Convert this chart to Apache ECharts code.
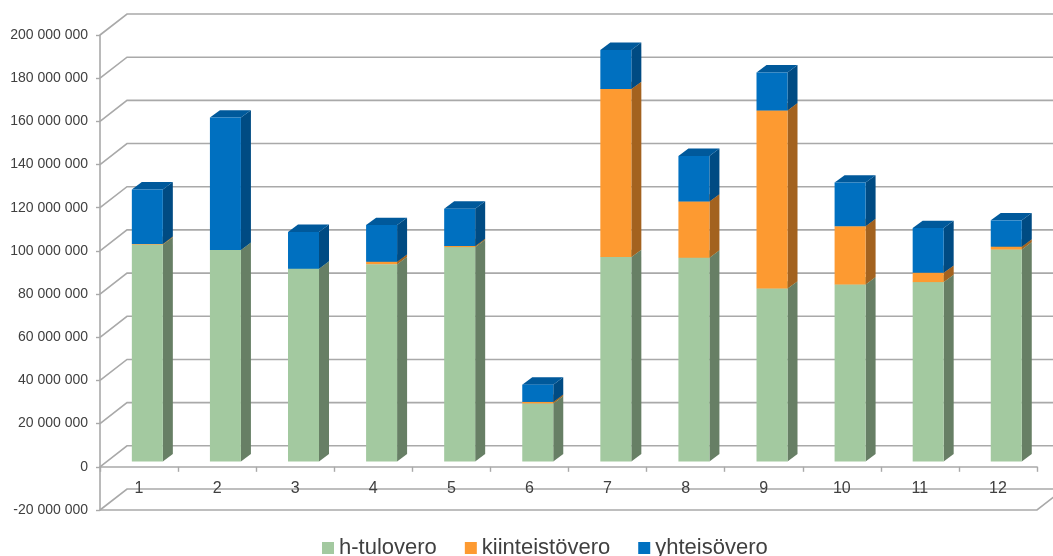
<!DOCTYPE html>
<html>
<head>
<meta charset="utf-8">
<script src="https://cdn.jsdelivr.net/npm/echarts@6/dist/echarts.min.js"></script>
<style>
  html, body { margin: 0; padding: 0; background: #fff; }
  #chart { width: 1053px; height: 556px; }
</style>
</head>
<body>
<div id="chart"></div>
<script>
// Categories and stacked values (euros)
const categories = ['1', '2', '3', '4', '5', '6', '7', '8', '9', '10', '11', '12'];
const hTulovero = [100500000, 98000000, 89300000, 91400000, 99300000, 26900000, 94700000, 94400000, 80100000, 82000000, 83100000, 98200000];
const kiinteistovero = [300000, 0, 0, 1100000, 500000, 700000, 77800000, 26000000, 82500000, 27000000, 4300000, 1300000];
const yhteisovero = [25200000, 61300000, 17000000, 17000000, 17300000, 8000000, 18100000, 21100000, 17600000, 20200000, 20700000, 12200000];
const seriesNames = ['h-tulovero', 'kiinteistövero', 'yhteisövero'];
const yTicks = [-20000000, 0, 20000000, 40000000, 60000000, 80000000, 100000000, 120000000, 140000000, 160000000, 180000000, 200000000];

const stacks = [hTulovero, kiinteistovero, yhteisovero];

// Face colours for each series: front, side, top
const faces = [
  { front: '#a3c9a0', side: '#677f65', top: '#8db18a' },
  { front: '#fd9a31', side: '#a3621f', top: '#cc7b27' },
  { front: '#0070c0', side: '#004b83', top: '#00599b' }
];

// Projection of the chart's depth
const WALL_DX = 27, WALL_DY = 21;     // back wall offset
const BAR_OX = 8.3, BAR_OY = 5.3;     // bar front face offset from the front plane
const BAR_DX = 10, BAR_DY = 7.4;      // bar depth
const BAR_RATIO = 0.397;              // bar width / band width
const FONT = 'Liberation Sans, Arial, sans-serif';

const chart = echarts.init(document.getElementById('chart'), null, { renderer: 'canvas' });

function fmt(v) {
  const s = Math.abs(v).toString().replace(/\B(?=(\d{3})+(?!\d))/g, ' ');
  return (v < 0 ? '-' : '') + s;
}

// Left wall diagonals, back-wall gridlines and the floor
function renderWall(params, api) {
  const cs = params.coordSys;
  const v = api.value(1);
  const y = api.coord([0, v])[1];
  const x0 = cs.x, x1 = cs.x + cs.width;
  const style = { stroke: '#a9a9a9', lineWidth: 1.6, fill: null };
  const children = [{
    type: 'polyline',
    shape: { points: [[x0, y], [x0 + WALL_DX, y - WALL_DY], [x1 + WALL_DX, y - WALL_DY]] },
    style: style, silent: true
  }];
  if (v === yTicks[0]) {
    children.push({
      type: 'polyline',
      shape: { points: [[x0, y], [x1, y], [x1 + WALL_DX, y - WALL_DY]] },
      style: style, silent: true
    });
  }
  return { type: 'group', children: children };
}

// Category names, set just below the zero line
function renderCategoryLabel(params, api) {
  const idx = api.value(0);
  const p = api.coord([idx, 0]);
  return {
    type: 'text',
    silent: true,
    style: {
      x: p[0], y: p[1] + 22,
      text: categories[idx],
      fill: '#404040',
      font: '16px ' + FONT,
      align: 'center',
      verticalAlign: 'middle'
    }
  };
}

function makeBarRenderer(k) {
  return function (params, api) {
    const idx = api.value(0);
    const val = api.value(1);
    if (!val) return null;
    let base = 0;
    for (let j = 0; j < k; j++) base += stacks[j][idx];
    const pBase = api.coord([idx, base]);
    const pTop = api.coord([idx, base + val]);
    const w = api.size([1, 0])[0] * BAR_RATIO;
    const xl = pBase[0] + BAR_OX - w / 2;
    const xr = xl + w;
    const yb = pBase[1] - BAR_OY;
    const yt = pTop[1] - BAR_OY;
    const c = faces[k];
    return {
      type: 'group',
      children: [
        { type: 'polygon', shape: { points: [[xr, yt], [xr + BAR_DX, yt - BAR_DY], [xr + BAR_DX, yb - BAR_DY], [xr, yb]] }, style: { fill: c.side } },
        { type: 'polygon', shape: { points: [[xl, yt], [xl + BAR_DX, yt - BAR_DY], [xr + BAR_DX, yt - BAR_DY], [xr, yt]] }, style: { fill: c.top } },
        { type: 'rect', shape: { x: xl, y: yt, width: w, height: yb - yt }, style: { fill: c.front } }
      ]
    };
  };
}

const series = [{
  type: 'custom',
  name: 'wall',
  silent: true,
  z: 1,
  data: yTicks.map(v => [0, v]),
  encode: { x: 0, y: 1 },
  renderItem: renderWall,
  clip: false
}, {
  type: 'custom',
  name: 'categoryLabels',
  silent: true,
  z: 2,
  data: categories.map((c, i) => [i, 0]),
  encode: { x: 0, y: 1 },
  renderItem: renderCategoryLabel,
  clip: false
}];

stacks.forEach((arr, k) => {
  series.push({
    type: 'custom',
    name: seriesNames[k],
    z: 3,
    itemStyle: { color: faces[k].front },
    data: arr.map((v, i) => [i, v]),
    encode: { x: 0, y: 1 },
    renderItem: makeBarRenderer(k),
    clip: false
  });
});

chart.setOption({
  animation: false,
  backgroundColor: '#ffffff',
  textStyle: { fontFamily: FONT },
  grid: { left: 100, right: 16, top: 35, bottom: 46, containLabel: false },
  legend: {
    data: seriesNames,
    left: 317,
    top: 532,
    icon: 'rect',
    itemWidth: 12,
    itemHeight: 12,
    itemGap: 28,
    textStyle: { fontSize: 22, color: '#404040', fontFamily: FONT }
  },
  xAxis: {
    type: 'category',
    data: categories,
    axisLine: { onZero: true, lineStyle: { color: '#a9a9a9', width: 1.6 } },
    axisTick: { show: true, length: 5, lineStyle: { color: '#a9a9a9', width: 1.4 } },
    axisLabel: { show: false },
    splitLine: { show: false },
    z: 2
  },
  yAxis: {
    type: 'value',
    min: -20000000,
    max: 200000000,
    interval: 20000000,
    axisLine: { show: true, lineStyle: { color: '#a9a9a9', width: 1.6 } },
    axisTick: { show: true, length: 4, lineStyle: { color: '#a9a9a9', width: 1.4 } },
    axisLabel: { margin: 12, fontSize: 14, color: '#404040', formatter: fmt },
    splitLine: { show: false }
  },
  series: series
});
</script>
</body>
</html>
